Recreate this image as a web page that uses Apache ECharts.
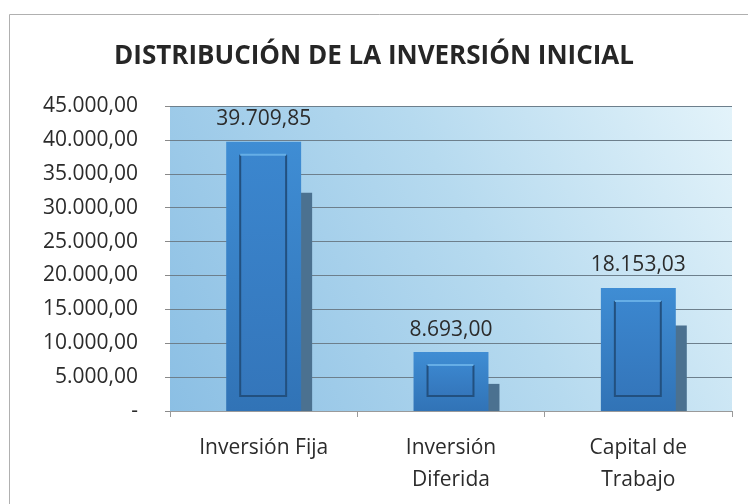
<!DOCTYPE html>
<html>
<head>
<meta charset="utf-8">
<script src="https://cdn.jsdelivr.net/npm/echarts@6/dist/echarts.min.js"></script>
<style>
html,body{margin:0;padding:0;background:#fff;}
#chart{width:748px;height:504px;}
</style>
</head>
<body>
<div id="chart"></div>
<script>
const categories = ['Inversión Fija', 'Inversión\nDiferida', 'Capital de\nTrabajo'];
const values = [39709.85, 8693.00, 18153.03];
const shadowValues = [32200, 4000, 12600];
const yTicks = [0, 5000, 10000, 15000, 20000, 25000, 30000, 35000, 40000, 45000];
const titleText = 'DISTRIBUCIÓN DE LA INVERSIÓN INICIAL';

function fmt(v) {
  const parts = Number(v).toFixed(2).split('.');
  return parts[0].replace(/\B(?=(\d{3})+(?!\d))/g, '.') + ',' + parts[1];
}

const FONT = '"Open Sans", sans-serif';
const chart = echarts.init(document.getElementById('chart'), null, {renderer: 'canvas'});

function barGeom(api, v) {
  const i = api.value(0);
  const band = api.size([1, 0])[0];
  const bw = band * 0.4;
  const top = api.coord([i, v]);
  const base = api.coord([i, 0]);
  return {cx: top[0], bw: bw, top: top[1], base: base[1]};
}

const option = {
  backgroundColor: '#ffffff',
  animation: false,
  title: {
    text: titleText,
    left: 'center',
    top: 39,
    textStyle: {fontFamily: FONT, fontWeight: 'bold', fontSize: 26, color: '#262626'}
  },
  graphic: [{
    type: 'rect',
    shape: {x: 9.5, y: 14.5, width: 760, height: 520},
    style: {fill: 'none', stroke: '#b0b0b0', lineWidth: 1},
    silent: true, z: -1
  }],
  grid: {
    left: 170, right: 16, top: 106, bottom: 93,
    show: true,
    borderWidth: 0,
    backgroundColor: new echarts.graphic.LinearGradient(0, 1, 1, 0, [
      {offset: 0, color: '#8bbfe4'},
      {offset: 0.55, color: '#b6daef'},
      {offset: 1, color: '#e3f3fa'}
    ])
  },
  xAxis: {
    type: 'category',
    data: categories,
    axisLine: {show: true, lineStyle: {color: '#9a9a9a', width: 1}},
    axisTick: {show: true, length: 6, lineStyle: {color: '#9a9a9a'}},
    axisLabel: {
      fontFamily: FONT, fontSize: 21, color: '#2b2b2b',
      margin: 21, lineHeight: 32, interval: 0
    },
    splitLine: {show: false}
  },
  yAxis: {
    type: 'value',
    min: 0, max: 45000, interval: 5000,
    axisLine: {show: false},
    axisTick: {show: true, length: 5, lineStyle: {color: '#8a8a8a'}},
    axisLabel: {
      fontFamily: FONT, fontSize: 21, color: '#2b2b2b', margin: 32,
      formatter: function (v) { return v === 0 ? '-' : fmt(v); },
      customValues: yTicks
    },
    splitLine: {show: true, lineStyle: {color: '#6d7f8c', width: 1}}
  },
  series: [
    {
      name: 'sombra',
      type: 'custom',
      z: 1,
      data: shadowValues.map(function (v, i) { return [i, v]; }),
      renderItem: function (params, api) {
        const g = barGeom(api, api.value(1));
        return {
          type: 'rect',
          shape: {x: g.cx + g.bw / 2 - 1, y: g.top, width: 12, height: g.base - g.top},
          style: {fill: '#4b7190'}
        };
      },
      silent: true
    },
    {
      name: 'Inversión',
      type: 'bar',
      z: 2,
      barWidth: '40%',
      data: values,
      itemStyle: {
        color: new echarts.graphic.LinearGradient(0, 0, 0, 1, [
          {offset: 0, color: '#3f8dd4'},
          {offset: 1, color: '#3173b6'}
        ])
      },
      label: {
        show: true, position: 'top', distance: 12,
        fontFamily: FONT, fontSize: 21, color: '#2b2b2b',
        formatter: function (p) { return fmt(p.value); }
      }
    },
    {
      name: 'bisel',
      type: 'custom',
      z: 3,
      data: values.map(function (v, i) { return [i, v]; }),
      renderItem: function (params, api) {
        const g = barGeom(api, api.value(1));
        const x0 = g.cx - g.bw / 2 + 14;
        const x1 = g.cx + g.bw / 2 - 15;
        const y0 = g.top + 13;
        const y1 = g.base - 15;
        return {
          type: 'group',
          children: [
            {
              type: 'rect',
              shape: {x: x0, y: y0, width: x1 - x0, height: y1 - y0},
              style: {
                fill: new echarts.graphic.LinearGradient(0, 0, 0, 1, [
                  {offset: 0, color: '#3b86ce'},
                  {offset: 1, color: '#3476bb'}
                ])
              }
            },
            {
              type: 'polyline',
              shape: {points: [[x0, y0], [x0, y1], [x1, y1], [x1, y0]]},
              style: {stroke: '#22507f', lineWidth: 2, fill: null}
            },
            {
              type: 'line',
              shape: {x1: x0, y1: y0, x2: x1, y2: y0},
              style: {stroke: '#66aee6', lineWidth: 2}
            }
          ]
        };
      },
      silent: true
    }
  ]
};
chart.setOption(option);
</script>
</body>
</html>
